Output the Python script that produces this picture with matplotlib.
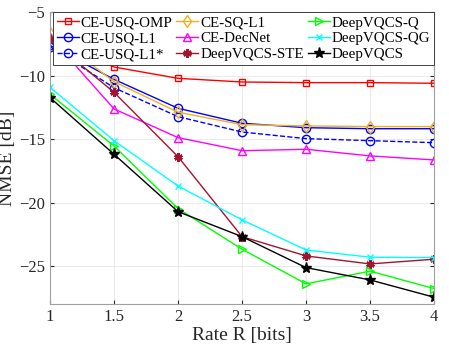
import matplotlib
matplotlib.use("Agg")
import matplotlib.pyplot as plt

plt.rcParams['font.family'] = ['Liberation Serif', 'DejaVu Serif']

rate = [1, 1.5, 2, 2.5, 3, 3.5, 4]

ce_usq_omp = [-7.0, -9.31, -10.2, -10.49, -10.54, -10.54, -10.59]
ce_usq_l1 = [-7.6, -10.28, -12.56, -13.74, -14.09, -14.17, -14.17]
ce_usq_l1s = [-7.7, -10.94, -13.22, -14.43, -14.95, -15.11, -15.27]
ce_sq_l1 = [-6.65, -10.46, -12.87, -13.85, -13.95, -14.0, -14.0]
ce_decnet = [-6.92, -12.61, -14.87, -15.9, -15.79, -16.31, -16.63]
dvqcs_ste = [-7.13, -11.3, -16.37, -22.67, -24.19, -24.82, -24.45]
dvqcs_q = [-11.46, -15.53, -20.46, -23.66, -26.39, -25.39, -26.76]
dvqcs_qg = [-10.91, -15.11, -18.68, -21.35, -23.72, -24.29, -24.32]
dvqcs = [-11.72, -16.18, -20.7, -22.67, -25.11, -26.08, -27.44]

orange = (0.929, 0.694, 0.125)
darkred = (0.635, 0.078, 0.184)

fig = plt.figure(figsize=(4.49, 3.49), dpi=100)
ax = fig.add_axes([50/449, 1-304.3/349, 384/449, 292/349])

ax.plot(rate, ce_usq_omp, '-s', color='red', mfc='none', ms=5, lw=1, label='CE-USQ-OMP')
ax.plot(rate, ce_usq_l1, '-o', color='blue', mfc='none', ms=6, lw=1, label='CE-USQ-L1')
ax.plot(rate, ce_usq_l1s, '--o', color='blue', mfc='none', ms=6, lw=1, label='CE-USQ-L1*')
ax.plot(rate, ce_sq_l1, '-d', color=orange, mfc='none', ms=6, lw=1, label='CE-SQ-L1')
ax.plot(rate, ce_decnet, '-^', color='magenta', mfc='none', ms=6, lw=1, label='CE-DecNet')
ax.plot(rate, dvqcs_ste, '-', marker=(6, 2, 0), color=darkred, ms=6, mew=1.8, lw=1, label='DeepVQCS-STE')
ax.plot(rate, dvqcs_q, '->', color=(0, 1, 0), mfc='none', ms=6, lw=1, label='DeepVQCS-Q')
ax.plot(rate, dvqcs_qg, '-x', color=(0, 1, 1), ms=5, lw=1, label='DeepVQCS-QG')
ax.plot(rate, dvqcs, '-*', color='black', ms=8, lw=1, label='DeepVQCS')

ax.set_xlim(1, 4)
ax.set_ylim(-28, -5)
ax.set_xticks(rate)
ax.set_xticklabels(['1', '1.5', '2', '2.5', '3', '3.5', '4'])
ax.set_yticks([-25, -20, -15, -10, -5])
ax.tick_params(direction='in', labelsize=12, colors='#262626', length=3, top=True, right=True)
for s in ax.spines.values():
    s.set_color('#a0a0a0')
ax.grid(True, color='#e6e6e6', lw=0.6)
ax.set_axisbelow(True)
ax.set_xlabel('Rate R [bits]', fontsize=14, color='#262626', labelpad=1)
ax.set_ylabel('NMSE [dB]', fontsize=14, color='#262626', labelpad=2)

leg = ax.legend(ncol=3, loc='upper left', bbox_to_anchor=(0.008, 0.0, 0.992, 1.0),
                mode='expand', fontsize=10.8, frameon=True, fancybox=False,
                borderaxespad=0.0, handlelength=1.45, handletextpad=0.15,
                columnspacing=0.2, labelspacing=0.15, borderpad=0.25)
leg.get_frame().set_edgecolor('#262626')
leg.get_frame().set_linewidth(0.6)
leg.get_frame().set_alpha(1)

fig.savefig('out.png', dpi=100)
